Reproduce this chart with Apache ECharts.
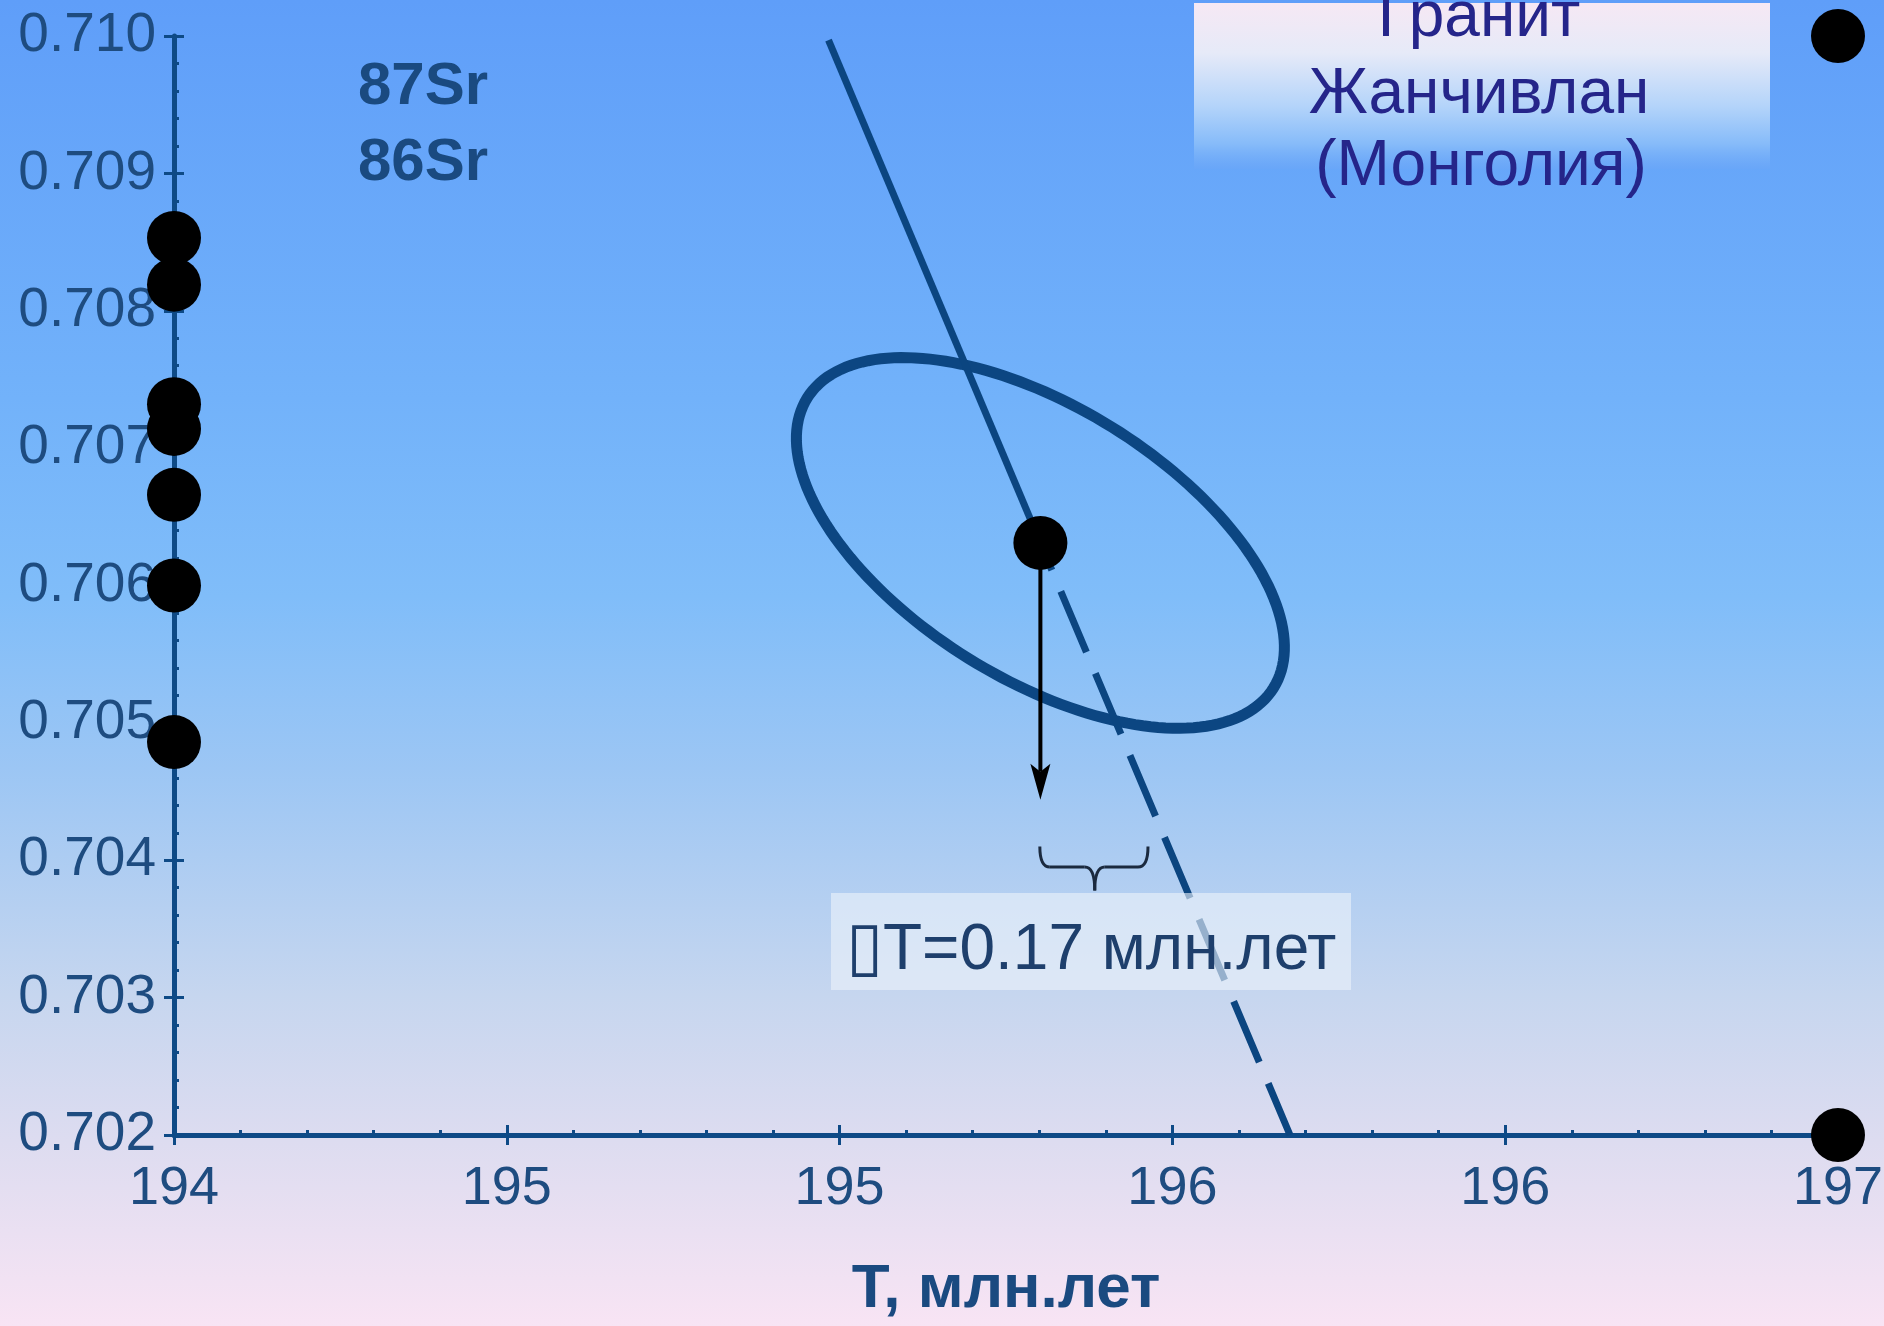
<!DOCTYPE html>
<html>
<head>
<meta charset="utf-8">
<script src="https://cdn.jsdelivr.net/npm/echarts@6/dist/echarts.min.js"></script>
<style>
html,body{margin:0;padding:0;width:1884px;height:1326px;overflow:hidden;}
#chart{width:1884px;height:1326px;}
</style>
</head>
<body>
<div id="chart"></div>
<script>
// ---------------- data ----------------
const xTickLabels = ['194', '195', '195', '196', '196', '197'];
const yTickLabels = ['0.702', '0.703', '0.704', '0.705', '0.706', '0.707', '0.708', '0.709', '0.710'];

// measured samples at T = 194
const sampleT = [194, 194, 194, 194, 194, 194, 194];
const sampleR = [0.70853, 0.70819, 0.70732, 0.70714, 0.70666, 0.70600, 0.70486];

// reference points at the right edge
const refT = [197, 197];
const refR = [0.7100, 0.7020];

// granite point
const pointT = [195.562];
const pointR = [0.70631];

// isochron line (solid part, then dashed part)
const isochronT = [195.180, 195.562, 196.012];
const isochronR = [0.70997, 0.70631, 0.70200];

// error ellipse: centre and two conjugate half-axes (data units)
const ellipseCenter = [195.562, 0.70631];
const ellipseAxisU = [0.4204, -0.001055];
const ellipseAxisV = [-0.1296, -0.000841];

// arrow from the point downwards
const arrowT = [195.562, 195.562];
const arrowR = [0.70631, 0.70444];

// brace: left/mid/right T; top, bar, tip R
const braceT = [195.561, 195.660, 195.756];
const braceR = [0.70410, 0.70395, 0.70378];

// ---------------- styles ----------------
const FF = '"Liberation Sans", Arial, Helvetica, sans-serif';
const AX = '#0e4a86';
const LBL = '#1e4c80';
const LINE = '#0b4580';

const chart = echarts.init(document.getElementById('chart'));

function pairs(xs, ys) { return xs.map((x, i) => [x, ys[i]]); }

const xBase = { type: 'value', min: 194, max: 197, interval: 0.6, splitLine: { show: false } };
const yBase = { type: 'value', min: 0.702, max: 0.710, interval: 0.001, splitLine: { show: false } };

const option = {
  animation: false,
  backgroundColor: {
    type: 'linear', x: 0, y: 0, x2: 0, y2: 1,
    colorStops: [
      { offset: 0, color: '#5f9ef9' },
      { offset: 0.3, color: '#72b2fa' },
      { offset: 0.45, color: '#80bdf9' },
      { offset: 0.58, color: '#9cc6f4' },
      { offset: 0.75, color: '#c6d6ef' },
      { offset: 0.86, color: '#dddcf0' },
      { offset: 1, color: '#f8e4f4' }
    ]
  },
  grid: { left: 174, right: 46, top: 36, bottom: 191, containLabel: false, outerBoundsMode: 'none' },
  xAxis: [
    Object.assign({}, xBase, {
      position: 'bottom',
      axisLine: { show: true, lineStyle: { color: AX, width: 5 } },
      axisTick: { show: true, length: 10, lineStyle: { color: AX, width: 3 } },
      minorTick: { show: false },
      axisLabel: {
        margin: 27, color: LBL, fontSize: 54, fontFamily: FF,
        formatter: (v, i) => (xTickLabels[i] !== undefined ? xTickLabels[i] : String(Math.round(v)))
      },
      name: 'Т, млн.лет', nameLocation: 'middle', nameGap: 124,
      nameTextStyle: { color: '#1a4a80', fontSize: 62, fontWeight: 'bold', fontFamily: FF }
    }),
    Object.assign({}, xBase, {
      position: 'bottom',
      axisLine: { show: false },
      axisLabel: { show: false },
      axisTick: { show: true, inside: true, length: 10, lineStyle: { color: AX, width: 3 } },
      minorTick: { show: true, splitNumber: 5, length: 5, lineStyle: { color: AX, width: 3 } }
    })
  ],
  yAxis: [
    Object.assign({}, yBase, {
      position: 'left',
      axisLine: { show: true, lineStyle: { color: AX, width: 5 } },
      axisTick: { show: true, length: 10, lineStyle: { color: AX, width: 3 } },
      minorTick: { show: false },
      axisLabel: {
        margin: 18, color: LBL, fontSize: 55, fontFamily: FF,
        formatter: (v, i) => (yTickLabels[i] !== undefined ? yTickLabels[i] : v.toFixed(3))
      }
    }),
    Object.assign({}, yBase, {
      position: 'left',
      axisLine: { show: false },
      axisLabel: { show: false },
      axisTick: { show: true, inside: true, length: 10, lineStyle: { color: AX, width: 3 } },
      minorTick: { show: true, splitNumber: 5, length: 5, lineStyle: { color: AX, width: 3 } }
    })
  ],
  series: [
    {
      type: 'line', xAxisIndex: 0, yAxisIndex: 0, z: 3,
      data: pairs(isochronT.slice(0, 2), isochronR.slice(0, 2)),
      showSymbol: false, symbol: 'none',
      lineStyle: { color: LINE, width: 7, cap: 'butt' }
    },
    {
      type: 'line', xAxisIndex: 0, yAxisIndex: 0, z: 3,
      data: pairs(isochronT.slice(1), isochronR.slice(1)),
      showSymbol: false, symbol: 'none',
      lineStyle: { color: LINE, width: 7, type: [66, 23], dashOffset: 36.5, cap: 'butt' }
    },
    {
      type: 'custom', xAxisIndex: 0, yAxisIndex: 0, z: 3,
      data: [ellipseCenter],
      renderItem: function (params, api) {
        const pts = [];
        const n = 180;
        for (let k = 0; k < n; k++) {
          const t = (k / n) * Math.PI * 2;
          const dx = ellipseCenter[0] + ellipseAxisU[0] * Math.cos(t) + ellipseAxisV[0] * Math.sin(t);
          const dy = ellipseCenter[1] + ellipseAxisU[1] * Math.cos(t) + ellipseAxisV[1] * Math.sin(t);
          pts.push(api.coord([dx, dy]));
        }
        return {
          type: 'polygon',
          shape: { points: pts, smooth: 0 },
          style: { fill: 'none', stroke: '#0c4682', lineWidth: 11 }
        };
      }
    },
    {
      type: 'custom', xAxisIndex: 0, yAxisIndex: 0, z: 4,
      data: [[arrowT[0], arrowR[0]]],
      renderItem: function (params, api) {
        const a = api.coord([arrowT[0], arrowR[0]]);
        const b = api.coord([arrowT[1], arrowR[1]]);
        const len = 36, hw = 10, notch = 8;
        const ang = Math.atan2(b[1] - a[1], b[0] - a[0]);
        const ux = Math.cos(ang), uy = Math.sin(ang);
        const px = -uy, py = ux;
        const baseX = b[0] - ux * len, baseY = b[1] - uy * len;
        return {
          type: 'group',
          children: [
            {
              type: 'line',
              shape: { x1: a[0], y1: a[1], x2: baseX + ux * notch, y2: baseY + uy * notch },
              style: { stroke: '#000', lineWidth: 4 }
            },
            {
              type: 'polygon',
              shape: {
                points: [
                  [b[0], b[1]],
                  [baseX + px * hw, baseY + py * hw],
                  [baseX + ux * notch, baseY + uy * notch],
                  [baseX - px * hw, baseY - py * hw]
                ]
              },
              style: { fill: '#000' }
            }
          ]
        };
      }
    },
    {
      type: 'custom', xAxisIndex: 0, yAxisIndex: 0, z: 4,
      data: [[braceT[1], braceR[1]]],
      renderItem: function (params, api) {
        const L = api.coord([braceT[0], braceR[0]]);
        const R = api.coord([braceT[2], braceR[0]]);
        const barY = api.coord([braceT[1], braceR[1]])[1];
        const midX = api.coord([braceT[1], braceR[1]])[0];
        const tipY = api.coord([braceT[1], braceR[2]])[1];
        const r = 10;
        const st = { stroke: '#1b2a3f', lineWidth: 3, fill: 'none' };
        return {
          type: 'group',
          children: [
            { type: 'bezierCurve', shape: { x1: L[0], y1: L[1], x2: L[0] + r, y2: barY, cpx1: L[0], cpy1: barY }, style: st },
            { type: 'line', shape: { x1: L[0] + r, y1: barY, x2: midX - r, y2: barY }, style: st },
            { type: 'bezierCurve', shape: { x1: midX - r, y1: barY, x2: midX, y2: tipY, cpx1: midX, cpy1: barY }, style: st },
            { type: 'bezierCurve', shape: { x1: R[0], y1: R[1], x2: R[0] - r, y2: barY, cpx1: R[0], cpy1: barY }, style: st },
            { type: 'line', shape: { x1: R[0] - r, y1: barY, x2: midX + r, y2: barY }, style: st },
            { type: 'bezierCurve', shape: { x1: midX + r, y1: barY, x2: midX, y2: tipY, cpx1: midX, cpy1: barY }, style: st }
          ]
        };
      }
    },
    {
      type: 'scatter', xAxisIndex: 0, yAxisIndex: 0, z: 6, clip: false,
      symbol: 'circle', symbolSize: 54,
      itemStyle: { color: '#000', opacity: 1 },
      data: pairs(sampleT, sampleR).concat(pairs(refT, refR)).concat(pairs(pointT, pointR))
    }
  ],
  graphic: [
    {
      type: 'rect', z: 10,
      shape: { x: 1194, y: 3, width: 576, height: 166 },
      style: {
        fill: {
          type: 'linear', x: 0, y: 0, x2: 0, y2: 1,
          colorStops: [
            { offset: 0, color: '#f6e8f4' },
            { offset: 0.3, color: '#e6eaf8' },
            { offset: 0.62, color: '#b4d4fa' },
            { offset: 0.85, color: '#86bbf9' },
            { offset: 1, color: 'rgba(106,166,248,0.6)' }
          ]
        }
      }
    },
    { type: 'text', z: 11, x: 1479, y: 18, style: { text: 'Гранит', fontSize: 64, fontFamily: FF, fill: '#25258a', align: 'center', verticalAlign: 'middle' } },
    { type: 'text', z: 11, x: 1479, y: 95, style: { text: 'Жанчивлан', fontSize: 64, fontFamily: FF, fill: '#25258a', align: 'center', verticalAlign: 'middle' } },
    { type: 'text', z: 11, x: 1481, y: 167, style: { text: '(Монголия)', fontSize: 64, fontFamily: FF, fill: '#25258a', align: 'center', verticalAlign: 'middle' } },
    { type: 'text', z: 11, x: 358, y: 87, style: { text: '87Sr', fontSize: 60, fontWeight: 'bold', fontFamily: FF, fill: '#1a4a80', align: 'left', verticalAlign: 'middle' } },
    { type: 'text', z: 11, x: 358, y: 163, style: { text: '86Sr', fontSize: 60, fontWeight: 'bold', fontFamily: FF, fill: '#1a4a80', align: 'left', verticalAlign: 'middle' } },
    {
      type: 'rect', z: 20,
      shape: { x: 831, y: 893, width: 520, height: 97 },
      style: { fill: 'rgba(236,242,250,0.62)' }
    },
    {
      type: 'text', z: 21, x: 846, y: 951,
      style: {
        text: '{b|▯}{t|T=0.17 млн.лет}',
        align: 'left', verticalAlign: 'middle',
        rich: {
          b: { fontSize: 68, fontFamily: '"DejaVu Sans", sans-serif', fill: '#1e3f6c', width: 37 },
          t: { fontSize: 64, fontFamily: FF, fill: '#1e3f6c' }
        }
      }
    }
  ]
};

chart.setOption(option);
</script>
</body>
</html>
